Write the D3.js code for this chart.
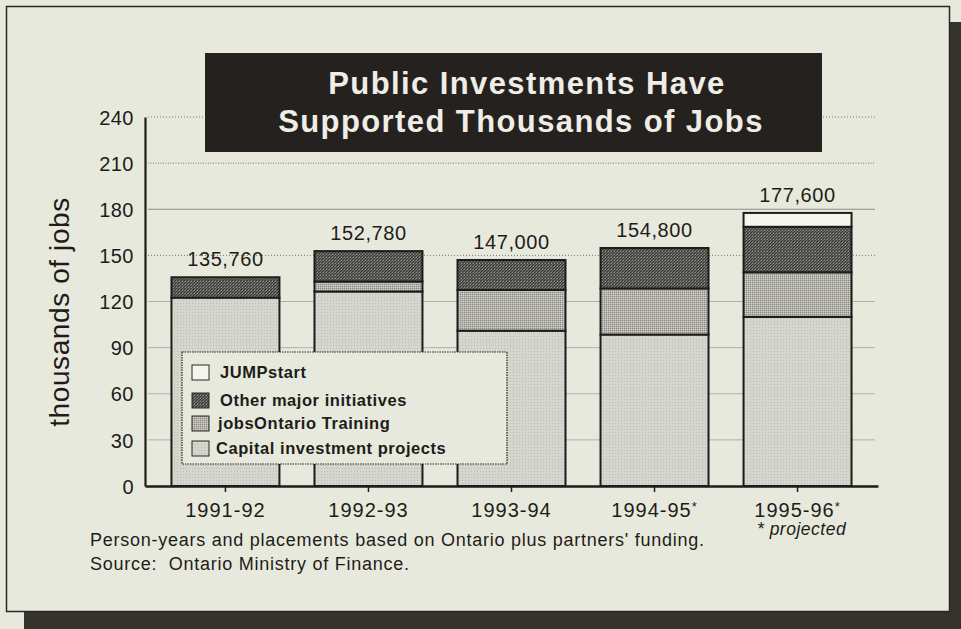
<!DOCTYPE html>
<html>
<head>
<meta charset="utf-8">
<script src="https://cdn.jsdelivr.net/npm/d3@7"></script>
<style>
  html, body { margin: 0; padding: 0; background: #36322c; }
  svg { display: block; }
  text { font-family: "Liberation Sans", Arial, Helvetica, sans-serif; }
</style>
</head>
<body>
<svg id="chart" width="961" height="629"></svg>
<script>
// Fiscal years shown on the x axis
const years = ["1991-92", "1992-93", "1993-94", "1994-95*", "1995-96*"];
// Job components, thousands of person-years / placements
const capital   = [122.5, 126.5, 101.0, 98.5, 110.0];
const training  = [0.0,   6.5,   26.5,  30.0, 29.0];
const other     = [13.26, 19.78, 19.5,  26.3, 29.6];
const jumpstart = [0.0,   0.0,   0.0,   0.0,  9.0];
// Totals printed above each bar
const totals = [135.76, 152.78, 147.0, 154.8, 177.6];
const totalLabels = ["135,760", "152,780", "147,000", "154,800", "177,600"];
const yTicks = [0, 30, 60, 90, 120, 150, 180, 210, 240];

const seriesKeys = ["capital", "training", "other", "jumpstart"];
const seriesNames = {
  jumpstart: "JUMPstart",
  other: "Other major initiatives",
  training: "jobsOntario Training",
  capital: "Capital investment projects"
};
const rows = years.map((y, i) => ({
  year: y, capital: capital[i], training: training[i], other: other[i], jumpstart: jumpstart[i]
}));

const svg = d3.select("#chart");
const bg = "#e8e9dd";
const ink = "#1e1c1a";

// Page panel with drop shadow
svg.append("rect").attr("x", 0).attr("y", 0).attr("width", 961).attr("height", 629).attr("fill", bg);
svg.append("rect").attr("x", 950).attr("y", 22).attr("width", 11).attr("height", 607).attr("fill", "#36322c");
svg.append("rect").attr("x", 24).attr("y", 612).attr("width", 937).attr("height", 17).attr("fill", "#36322c");
svg.append("rect").attr("x", 6.5).attr("y", 6.5).attr("width", 943).attr("height", 605)
  .attr("fill", bg).attr("stroke", "#2a2622").attr("stroke-width", 1.5);

// Fill patterns
const defs = svg.append("defs");
const pCap = defs.append("pattern").attr("id", "pCap").attr("patternUnits", "userSpaceOnUse")
  .attr("width", 3).attr("height", 3);
pCap.append("rect").attr("width", 3).attr("height", 3).attr("fill", "#d5d6cd");
pCap.append("rect").attr("x", 0).attr("y", 0).attr("width", 1).attr("height", 1).attr("fill", "#bbbcb3");

const pTrain = defs.append("pattern").attr("id", "pTrain").attr("patternUnits", "userSpaceOnUse")
  .attr("width", 2).attr("height", 2);
pTrain.append("rect").attr("width", 2).attr("height", 2).attr("fill", "#b4b4ac");
pTrain.append("rect").attr("x", 0).attr("y", 0).attr("width", 1).attr("height", 1).attr("fill", "#8c8c86");
pTrain.append("rect").attr("x", 1).attr("y", 1).attr("width", 1).attr("height", 1).attr("fill", "#cfcfc7");

const pOther = defs.append("pattern").attr("id", "pOther").attr("patternUnits", "userSpaceOnUse")
  .attr("width", 3).attr("height", 3);
pOther.append("rect").attr("width", 3).attr("height", 3).attr("fill", "#646460");
pOther.append("path").attr("d", "M0,3 L3,0").attr("stroke", "#353531").attr("stroke-width", 1);
pOther.append("rect").attr("x", 2).attr("y", 2).attr("width", 1).attr("height", 1).attr("fill", "#96968f");

const fills = { capital: "url(#pCap)", training: "url(#pTrain)", other: "url(#pOther)", jumpstart: "#f4f5ee" };

// Scales
const x = d3.scaleBand().domain(years).range([145, 878]).paddingInner(0.245).paddingOuter(0.185);
const y = d3.scaleLinear().domain([0, 240]).range([486, 117]);

// Gridlines
const gridStyle = { 240: "1,2", 210: "1,1.5", 180: null, 150: "1,2", 120: null, 90: null, 60: null, 30: null };
const grid = svg.append("g");
yTicks.filter(t => t > 0).forEach(t => {
  grid.append("line").attr("x1", 148).attr("x2", 875).attr("y1", y(t)).attr("y2", y(t))
    .attr("stroke", gridStyle[t] ? "#77776f" : (t === 180 ? "#8e8f87" : "#afb0a7"))
    .attr("stroke-width", 1)
    .attr("stroke-dasharray", gridStyle[t]);
});

// Stacked bars
const stack = d3.stack().keys(seriesKeys)(rows);
const gBars = svg.append("g");
stack.forEach(layer => {
  gBars.append("g").selectAll("rect").data(layer).join("rect")
    .attr("x", d => x(d.data.year))
    .attr("width", x.bandwidth())
    .attr("y", d => y(d[1]))
    .attr("height", d => Math.max(0, y(d[0]) - y(d[1])))
    .attr("fill", fills[layer.key])
    .attr("stroke", d => (d[1] - d[0]) > 0 ? ink : "none")
    .attr("stroke-width", 2);
});

// Totals above bars
svg.append("g").selectAll("text").data(years).join("text")
  .attr("x", d => x(d) + x.bandwidth() / 2)
  .attr("y", (d, i) => y(totals[i]) - 11)
  .attr("text-anchor", "middle")
  .attr("font-size", 20)
  .attr("letter-spacing", 0.6)
  .attr("fill", ink)
  .text((d, i) => totalLabels[i]);

// Title block
svg.append("rect").attr("x", 205).attr("y", 53).attr("width", 617).attr("height", 99).attr("fill", "#25211e");
const title = svg.append("text").attr("text-anchor", "middle").attr("font-weight", "bold")
  .attr("font-size", 31).attr("letter-spacing", 1.4).attr("fill", "#eeeee6");
title.append("tspan").attr("x", 527).attr("y", 94).text("Public Investments Have");
title.append("tspan").attr("x", 521).attr("y", 132).text("Supported Thousands of Jobs");

// Y axis
const yAxis = svg.append("g").attr("transform", "translate(145,0)")
  .call(d3.axisLeft(y).tickValues(yTicks).tickSize(0).tickPadding(11));
yAxis.select(".domain").attr("stroke", ink).attr("stroke-width", 2.2);
yAxis.selectAll("text").attr("font-size", 20).attr("letter-spacing", 0.5).attr("fill", ink)
  .attr("font-family", "'Liberation Sans', Arial, sans-serif").attr("dy", "0.36em");

// X axis
const xAxis = svg.append("g").attr("transform", "translate(0,486)")
  .call(d3.axisBottom(x).tickSize(6).tickPadding(8).tickSizeOuter(0));
xAxis.select(".domain").attr("stroke", ink).attr("stroke-width", 2.5);
xAxis.selectAll(".tick line").attr("stroke", ink).attr("stroke-width", 1.5);
xAxis.selectAll("text").attr("font-size", 20).attr("letter-spacing", 1).attr("fill", ink)
  .attr("font-family", "'Liberation Sans', Arial, sans-serif")
  .text(d => d.replace("*", ""))
  .filter(d => d.endsWith("*"))
  .append("tspan").attr("font-size", 13).attr("dy", "-0.5em").text("*");
xAxis.selectAll(".tick text").attr("dy", "0.85em");

// Projection note
svg.append("text").attr("x", x(years[4]) + x.bandwidth() / 2 + 4).attr("y", 535)
  .attr("text-anchor", "middle").attr("font-size", 17.5).attr("letter-spacing", 0.5)
  .attr("font-style", "italic").attr("fill", ink)
  .text("* projected");

// Y axis title
svg.append("text").attr("transform", "translate(69,312) rotate(-90)")
  .attr("text-anchor", "middle").attr("font-size", 28).attr("letter-spacing", 0.6).attr("fill", ink)
  .text("thousands of jobs");

// Legend
const legend = svg.append("g");
legend.append("rect").attr("x", 182).attr("y", 352).attr("width", 325).attr("height", 112)
  .attr("fill", bg).attr("stroke", "#2a2622").attr("stroke-width", 1.2).attr("stroke-dasharray", "1.5,1");
const legendKeys = ["jumpstart", "other", "training", "capital"];
const legendY = [372, 400, 423, 448];
legendKeys.forEach((k, i) => {
  legend.append("rect").attr("x", 192).attr("y", legendY[i] - 7).attr("width", 17).attr("height", 15)
    .attr("fill", fills[k]).attr("stroke", "#2a2622").attr("stroke-width", 1);
  legend.append("text").attr("x", k === "capital" ? 216 : (k === "training" ? 218 : 220)).attr("y", legendY[i] + 6)
    .attr("font-size", 16.5).attr("letter-spacing", 0.55).attr("font-weight", "bold").attr("fill", ink)
    .text(seriesNames[k]);
});

// Footnotes
svg.append("text").attr("x", 90).attr("y", 546).attr("font-size", 18).attr("letter-spacing", 0.75).attr("fill", ink)
  .text("Person-years and placements based on Ontario plus partners' funding.");
svg.append("text").attr("x", 90).attr("y", 570).attr("font-size", 18).attr("letter-spacing", 0.75).attr("fill", ink)
  .attr("xml:space", "preserve")
  .text("Source:  Ontario Ministry of Finance.");
</script>
</body>
</html>
